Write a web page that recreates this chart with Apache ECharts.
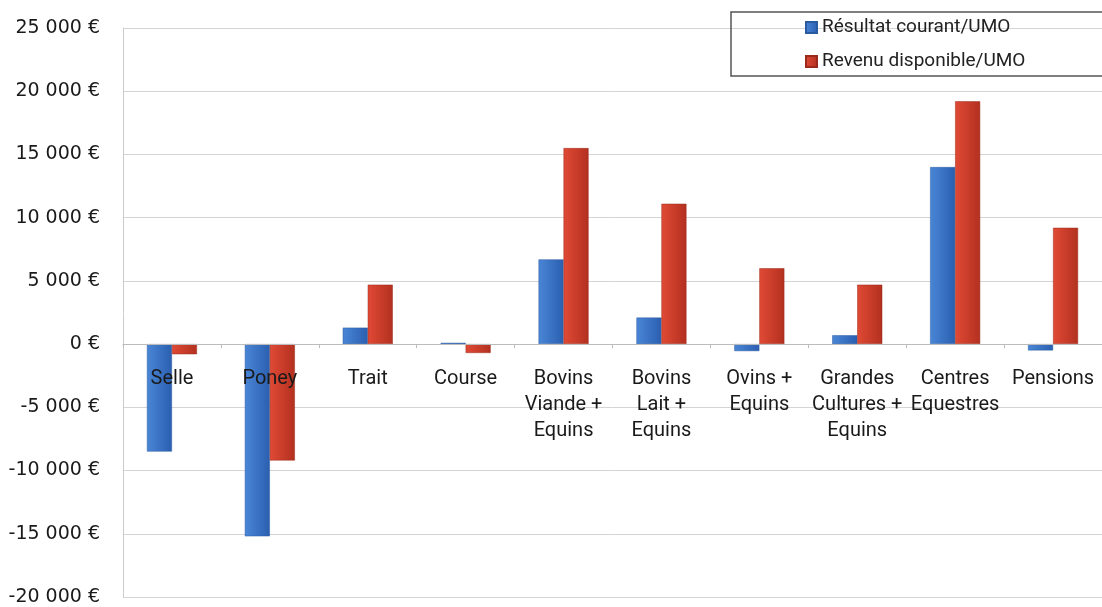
<!DOCTYPE html>
<html>
<head>
<meta charset="utf-8">
<script src="https://cdn.jsdelivr.net/npm/echarts@6/dist/echarts.min.js"></script>
<style>html,body{margin:0;padding:0;background:#fff;}#c{width:1102px;height:607px;}</style>
</head>
<body>
<div id="c"></div>
<script>
const categories = ["Selle", "Poney", "Trait", "Course", "Bovins\nViande +\nEquins", "Bovins\nLait +\nEquins", "Ovins +\nEquins", "Grandes\nCultures +\nEquins", "Centres\nEquestres", "Pensions"];
const resultatCourant = [-8500, -15200, 1300, 100, 6700, 2100, -550, 700, 14000, -500];
const revenuDisponible = [-800, -9200, 4700, -700, 15500, 11100, 6000, 4700, 19200, 9200];
const seriesNames = ["Résultat courant/UMO", "Revenu disponible/UMO"];

function fmt(v){
  const s = Math.abs(v).toString().replace(/\B(?=(\d{3})+(?!\d))/g, " ");
  return (v < 0 ? "-" : "") + s + " €";
}
function grad(a, b){
  return new echarts.graphic.LinearGradient(0,0,1,0,[{offset:0,color:a},{offset:1,color:b}]);
}
const chart = echarts.init(document.getElementById('c'));
chart.setOption({
  animation: false,
  backgroundColor: '#fff',
  textStyle: {fontFamily: 'Roboto'},
  legend: {
    orient: 'vertical',
    left: 731, top: 12,
    padding: [6, 140, 5, 74],
    borderColor: '#555', borderWidth: 1.5, borderRadius: 0,
    itemWidth: 11, itemHeight: 11, itemGap: 15,
    icon: 'rect',
    textStyle: {fontFamily: 'Roboto', fontSize: 19, color: '#222'},
    data: seriesNames
  },
  grid: {left: 123, right: 0, top: 28, bottom: 10, containLabel: false, outerBoundsMode: 'none'},
  xAxis: {
    type: 'category',
    data: categories,
    z: 5,
    axisLine: {onZero: true, lineStyle: {color: '#bbb', width: 1}},
    axisTick: {show: true, length: 4, inside: false, lineStyle: {color: '#bbb'}},
    axisLabel: {interval: 0, margin: -231, fontFamily: 'Roboto', fontSize: 20, lineHeight: 26, color: '#1a1a1a'},
    splitLine: {show: false}
  },
  yAxis: {
    type: 'value',
    min: -20000, max: 25000, interval: 5000,
    axisLine: {show: true, lineStyle: {color: '#ccc'}},
    axisTick: {show: false},
    splitLine: {show: true, lineStyle: {color: '#d4d4d4', width: 1}},
    axisLabel: {formatter: fmt, fontFamily: 'DejaVu Sans', fontSize: 19, color: '#1a1a1a', margin: 23}
  },
  series: [
    {name: seriesNames[0], type: 'bar', data: resultatCourant, barWidth: 25, barGap: '0%',
     itemStyle: {color: grad('#4a86d6', '#2b5fb0'), borderColor: '#2a5aa0', borderWidth: 0.5}},
    {name: seriesNames[1], type: 'bar', data: revenuDisponible, barWidth: 25, barGap: '0%',
     itemStyle: {color: grad('#e04a35', '#b3301f'), borderColor: '#9a2a1c', borderWidth: 0.5}}
  ]
});
</script>
</body>
</html>
